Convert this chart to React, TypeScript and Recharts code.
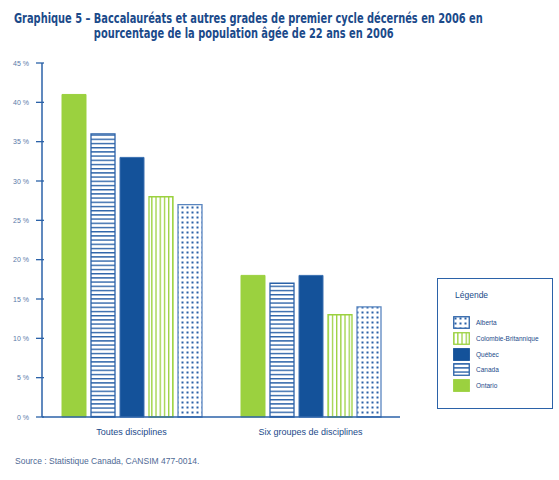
import React from "react";
import { BarChart, Bar, XAxis, YAxis } from "recharts";

const categories = ["Toutes disciplines", "Six groupes de disciplines"];
const ontario = [41, 18];
const canada = [36, 17];
const quebec = [33, 18];
const colombieBritannique = [28, 13];
const alberta = [27, 14];
const yTicks = [0, 5, 10, 15, 20, 25, 30, 35, 40, 45];

const data = categories.map((c, i) => ({
  name: c,
  pos: i,
  Ontario: ontario[i],
  Canada: canada[i],
  Quebec: quebec[i],
  CB: colombieBritannique[i],
  Alberta: alberta[i],
}));

const GREEN = "#9bd13f";
const DARK = "#14529a";
const BLUE = "#2b62a8";
const TXT = "#1b4a8a";

const legendItems = [
  { label: "Alberta", key: "alberta" },
  { label: "Colombie-Britannique", key: "cb" },
  { label: "Québec", key: "quebec" },
  { label: "Canada", key: "canada" },
  { label: "Ontario", key: "ontario" },
];

const Defs = () => (
  <svg width={0} height={0} style={{ position: "absolute" }}>
    <defs>
      <pattern id="pCanada" patternUnits="userSpaceOnUse" width={6} height={4.2}>
        <rect width={6} height={4.2} fill="#ffffff" />
        <rect y={0} width={6} height={1.4} fill={BLUE} />
      </pattern>
      <pattern id="pCB" patternUnits="userSpaceOnUse" width={4.2} height={6}>
        <rect width={4.2} height={6} fill="#ffffff" />
        <rect x={0} width={1.3} height={6} fill={GREEN} />
      </pattern>
      <pattern id="pAlberta" patternUnits="userSpaceOnUse" width={5} height={5}>
        <rect width={5} height={5} fill="#ffffff" />
        <rect x={1.5} y={1.5} width={2} height={2} fill={BLUE} />
      </pattern>
    </defs>
  </svg>
);

const YTick = (props: any) => {
  const { x, y, payload } = props;
  return (
    <g>
      <line x1={x} x2={x + 8} y1={y} y2={y} stroke={BLUE} strokeWidth={1.3} />
      <text x={x - 7} y={y} dy={2.5} textAnchor="end" fontSize={7} fill="#5a79a8" fontFamily="Liberation Sans, Arial, sans-serif">
        {payload.value} %
      </text>
    </g>
  );
};

const BoundaryTick = (props: any) => {
  const { x, y } = props;
  return <line x1={x} x2={x} y1={y} y2={y - 8} stroke={BLUE} strokeWidth={1.3} />;
};

const CatTick = (props: any) => {
  const { x, y, payload } = props;
  return (
    <text x={x} y={y} dy={12} textAnchor="middle" fontSize={9} fill={TXT} fontFamily="Liberation Sans, Arial, sans-serif">
      {payload.value}
    </text>
  );
};

const Swatch = ({ k }: { k: string }) => {
  let fill = GREEN;
  let stroke = GREEN;
  if (k === "alberta") { fill = "url(#pAlberta)"; stroke = BLUE; }
  if (k === "cb") { fill = "url(#pCB)"; stroke = GREEN; }
  if (k === "quebec") { fill = DARK; stroke = DARK; }
  if (k === "canada") { fill = "url(#pCanada)"; stroke = BLUE; }
  return (
    <svg width={17} height={13} style={{ display: "block" }}>
      <rect x={0.75} y={0.75} width={15.5} height={11.5} fill={fill} stroke={stroke} strokeWidth={1.3} />
    </svg>
  );
};

export default function App() {
  return (
    <div style={{ position: "fixed", left: 0, top: 0, width: 559, height: 480, background: "#fff", fontFamily: "Liberation Sans, Arial, sans-serif" }}>
      <Defs />
      <div style={{ position: "absolute", left: 14, top: 11, transform: "scaleX(0.755)", transformOrigin: "0 0", fontFamily: "'DejaVu Sans Condensed', sans-serif", fontWeight: 700, fontSize: 14.5, lineHeight: "15px", color: TXT, display: "flex", whiteSpace: "nowrap" }}>
        <div>Graphique 5 –&nbsp;</div>
        <div>
          Baccalauréats et autres grades de premier cycle décernés en 2006 en
          <br />
          pourcentage de la population âgée de 22 ans en 2006
        </div>
      </div>
      <div style={{ position: "absolute", left: 0, top: 0 }}>
        <BarChart
          width={559}
          height={480}
          data={data}
          margin={{ top: 63, right: 159, bottom: 33, left: 0 }}
          barCategoryGap={20}
          barGap={5}
        >
          <XAxis xAxisId="b" dataKey="pos" type="number" domain={[0, 2]} ticks={[1, 2]} height={0} axisLine={false} tickLine={false} tickMargin={0} tick={<BoundaryTick />} />
          <XAxis xAxisId="a" dataKey="name" height={30} axisLine={{ stroke: BLUE, strokeWidth: 1.5 }} tickLine={false} tickMargin={0} tick={<CatTick />} />
          <YAxis domain={[0, 45]} ticks={yTicks} width={42} axisLine={{ stroke: BLUE, strokeWidth: 1.5 }} tickLine={false} tickMargin={0} tick={<YTick />} interval={0} />
          <Bar xAxisId="a" dataKey="Ontario" fill={GREEN} stroke={GREEN} strokeWidth={1} isAnimationActive={false} />
          <Bar xAxisId="a" dataKey="Canada" fill="url(#pCanada)" stroke={BLUE} strokeWidth={1.3} isAnimationActive={false} />
          <Bar xAxisId="a" dataKey="Quebec" fill={DARK} stroke="#3a6fb0" strokeWidth={1} isAnimationActive={false} />
          <Bar xAxisId="a" dataKey="CB" fill="url(#pCB)" stroke={GREEN} strokeWidth={1.3} isAnimationActive={false} />
          <Bar xAxisId="a" dataKey="Alberta" fill="url(#pAlberta)" stroke="#5a86c0" strokeWidth={1.3} isAnimationActive={false} />
        </BarChart>
      </div>
      <div style={{ position: "absolute", left: 437, top: 278, width: 114, height: 129, border: `1.5px solid ${BLUE}` }}>
        <div style={{ position: "absolute", left: 17, top: 11, fontSize: 8.5, color: TXT }}>Légende</div>
        {legendItems.map((it, i) => (
          <div key={it.key} style={{ position: "absolute", left: 15, top: 37 + i * 15.8, display: "flex", alignItems: "center" }}>
            <Swatch k={it.key} />
            <span style={{ marginLeft: 6, fontSize: 6.5, color: TXT }}>{it.label}</span>
          </div>
        ))}
      </div>
      <div style={{ position: "absolute", left: 15, top: 456, fontSize: 8.5, color: "#4f6a95" }}>
        Source : Statistique Canada, CANSIM 477-0014.
      </div>
    </div>
  );
}
